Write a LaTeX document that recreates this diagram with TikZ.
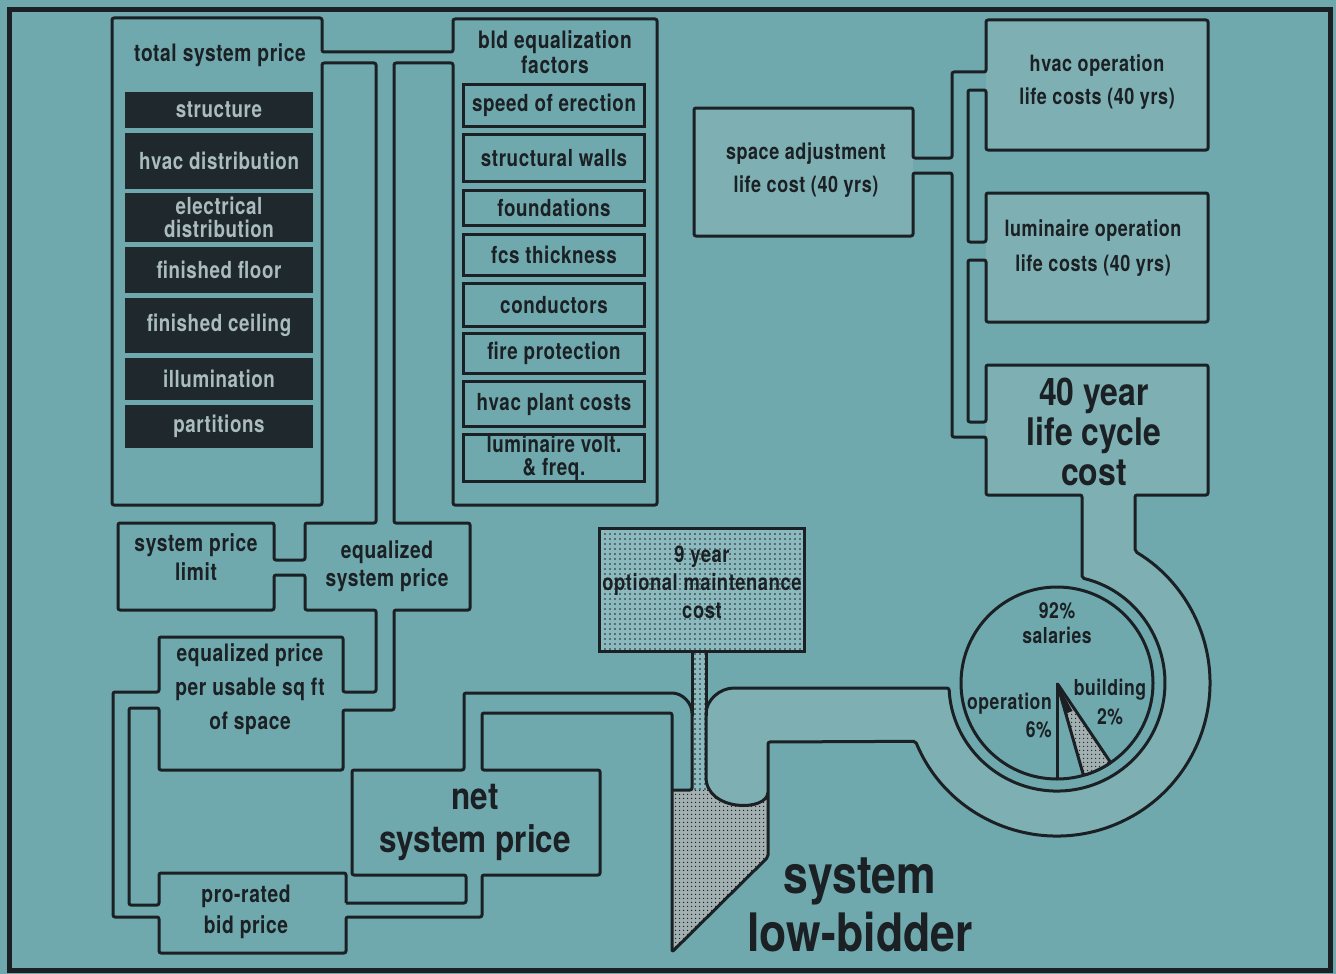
\documentclass[tikz,border=0pt]{standalone}
\usepackage{fontspec}
\setmainfont{TeX Gyre Heros}[FakeStretch=0.84]
\newfontfamily\chica{TeX Gyre Heros}[FakeStretch=0.8, LetterSpace=2.5]
\usetikzlibrary{patterns.meta}
\definecolor{fondo}{RGB}{111,168,173}
\definecolor{tinta}{RGB}{26,32,35}
\definecolor{oscuro}{RGB}{31,41,45}
\definecolor{claro}{RGB}{170,188,190}
\definecolor{punteado}{RGB}{126,175,179}
\definecolor{gris}{RGB}{162,176,177}
\tikzset{
  pared/.style={draw=tinta, line width=3pt, line join=round, rounded corners=2pt},
  puntos/.style={fill=#1, postaction={pattern={Dots[distance=5pt, radius=0.8pt]}, pattern color=tinta}},
  denso/.style={fill=#1, postaction={pattern={Dots[distance=4pt, radius=0.9pt]}, pattern color=tinta}},
  rotulo/.style={text=tinta, align=center, inner sep=0pt,
                 font=\chica\fontsize{24}{28}\selectfont\bfseries},
  oscura/.style={fill=oscuro, text=claro, minimum width=188pt, align=center,
                 inner sep=0pt, font=\chica\fontsize{23.5}{23}\selectfont\bfseries},
  factor/.style={draw=tinta, line width=3pt, fill=fondo, minimum width=181pt,
                 align=center, inner sep=0pt, text=tinta,
                 font=\chica\fontsize{23.5}{23}\selectfont\bfseries},
  grande/.style={rotulo, font=\fontsize{37.5}{43}\selectfont\bfseries}
}
\begin{document}
\begin{tikzpicture}[x=1pt, y=1pt]
  \useasboundingbox (0,0) rectangle (1336,-974);
  \fill[fondo] (0,0) rectangle (1336,-974);
  \coordinate (ctr) at (1057,-683);

  % rellenos
  \fill[punteado] (986,-20) rectangle (1208,-150);
  \fill[punteado] (986,-193) rectangle (1208,-322);
  \fill[punteado] (986,-365) rectangle (1208,-495);
  \fill[punteado] (694,-108) rectangle (913,-236);
  \fill[punteado] (1082,-495) -- (1082,-578) arc[start angle=76.6, end angle=-177.3, radius=108]
    -- (736,-688) to[out=180,in=90] (706,-716) -- (706,-775)
    .. controls (706,-812) and (768,-812) .. (768,-792) -- (768,-742)
    -- ([shift={(202.4:153)}]ctr) arc[start angle=202.4, end angle=419.3, radius=153]
    -- (1135,-495) -- cycle;
  \path[denso=gris] (672,-790) -- (706,-790) -- (706,-775)
    .. controls (706,-812) and (768,-812) .. (768,-792) -- (768,-857) -- (672,-952) -- cycle;
  \path[puntos=fondo!80!white] (692,-653) rectangle (706,-790);

  % paredes
  \draw[pared] (346,-903) -- (346,-873) -- (159,-873) -- (159,-905) -- (129,-905) -- (129,-708)
    -- (159,-708) -- (159,-770) -- (343,-770) -- (343,-710) -- (394,-710) -- (394,-610)
    -- (470,-610) -- (470,-523) -- (394,-523) -- (394,-63) -- (453,-63) -- (453,-505)
    -- (657,-505) -- (657,-19) -- (453,-19) -- (453,-52) -- (322,-52) -- (322,-18)
    -- (112,-18) -- (112,-505) -- (322,-505) -- (322,-63) -- (376,-63) -- (376,-523)
    -- (305,-523) -- (305,-560) -- (274,-560) -- (274,-523) -- (118,-523) -- (118,-610)
    -- (274,-610) -- (274,-575) -- (305,-575) -- (305,-610) -- (376,-610) -- (376,-692)
    -- (343,-692) -- (343,-637) -- (159,-637) -- (159,-692) -- (113,-692) -- (113,-917)
    -- (159,-917) -- (159,-953) -- (346,-953) -- (346,-917) -- (482,-917) -- (482,-875)
    -- (600,-875) -- (600,-770) -- (482,-770) -- (482,-713) -- (672,-713) -- (672,-952)
    -- (768,-857) -- (768,-742)
    -- ([shift={(202.4:153)}]ctr) arc[start angle=202.4, end angle=419.3, radius=153]
    -- (1135,-495) -- (1208,-495) -- (1208,-365) -- (986,-365) -- (986,-422) -- (968,-422)
    -- (968,-260) -- (986,-260) -- (986,-322) -- (1208,-322) -- (1208,-193) -- (986,-193)
    -- (986,-242) -- (968,-242) -- (968,-90) -- (986,-90) -- (986,-150) -- (1208,-150)
    -- (1208,-20) -- (986,-20) -- (986,-72) -- (952,-72) -- (952,-158) -- (913,-158)
    -- (913,-108) -- (694,-108) -- (694,-236) -- (913,-236) -- (913,-173) -- (952,-173)
    -- (952,-437) -- (986,-437) -- (986,-495) -- (1082,-495) -- (1082,-578)
    arc[start angle=76.6, end angle=-177.3, radius=108]
    -- (736,-688) to[out=180,in=90] (706,-716) -- (706,-775)
    .. controls (706,-812) and (768,-812) .. (768,-792);
  \draw[pared] (346,-903) -- (466,-903) -- (466,-875) -- (352,-875) -- (352,-770) -- (464,-770)
    -- (464,-693) -- (670,-693) to[out=0,in=90] (692,-715) -- (692,-790) -- (672,-790);
  \draw[pared] (692,-653) -- (692,-716);
  \draw[pared] (706,-653) -- (706,-716);
  \node[draw=tinta, line width=3pt, puntos=fondo!80!white, minimum width=205pt,
        minimum height=123pt] (cajanueve) at (702,-590) {};

  % torta
  \draw[pared, fill=fondo] (ctr) circle[radius=96];
  \path[pared, denso=gris] (ctr) -- ([shift={(-74:96)}]ctr)
    arc[start angle=-74, end angle=-56, radius=96] -- cycle;
  \fill[tinta] (ctr) -- ([shift={(-76:32)}]ctr) -- ([shift={(-61:32)}]ctr) -- cycle;
  \draw[pared] (ctr) -- ([shift={(-90:96)}]ctr);

  % cajas
  \node[oscura, minimum height=36pt] (estructura) at (219,-110) {structure};
  \node[oscura, minimum height=56pt] (hvacdist) at (219,-161) {hvac distribution};
  \node[oscura, minimum height=49pt] (electrica) at (219,-217.5) {electrical\\distribution};
  \node[oscura, minimum height=46pt] (piso) at (219,-270) {finished floor};
  \node[oscura, minimum height=55pt] (cielo) at (219,-325.5) {finished ceiling};
  \node[oscura, minimum height=42pt] (iluminacion) at (219,-379) {illumination};
  \node[oscura, minimum height=43pt] (particiones) at (219,-426.5) {partitions};

  \node[factor, minimum height=42pt] (velocidad) at (554,-105.5) {speed of erection};
  \node[factor, minimum height=47pt] (muros) at (554,-158) {structural walls};
  \node[factor, minimum height=35pt] (fundaciones) at (554,-208) {foundations};
  \node[factor, minimum height=41pt] (espesor) at (554,-255) {fcs thickness};
  \node[factor, minimum height=43pt] (conductores) at (554,-305) {conductors};
  \node[factor, minimum height=40pt] (fuego) at (554,-353.5) {fire protection};
  \node[factor, minimum height=45pt] (planta) at (554,-404) {hvac plant costs};
  \node[factor, minimum height=47pt] (voltaje) at (554,-458) {luminaire volt.\\\& freq.};

  % textos
  \node[rotulo] (total) at (220,-55) {total system price};
  \node[rotulo, font=\chica\fontsize{24}{25}\selectfont\bfseries] (igualacion) at (555,-52)
    {bld equalization\\factors};
  \node[rotulo, font=\chica\fontsize{24}{29}\selectfont\bfseries] (limite) at (196,-557)
    {system price\\limit};
  \node[rotulo] (igualado) at (387,-566) {equalized\\system price};
  \node[rotulo, font=\chica\fontsize{24}{34}\selectfont\bfseries] (unitario) at (250,-689)
    {equalized price\\per usable sq ft\\of space};
  \node[rotulo, font=\chica\fontsize{24}{31}\selectfont\bfseries] (prorrata) at (246,-912)
    {pro-rated\\bid price};
  \node[grande] (neto) at (475,-822) {net\\system price};
  \node[rotulo, font=\chica\fontsize{22.5}{33}\selectfont\bfseries] (espacio) at (806,-170)
    {space adjustment\\life cost (40 yrs)};
  \node[rotulo, font=\chica\fontsize{22.5}{33}\selectfont\bfseries] (hvacop) at (1097,-82)
    {hvac operation\\life costs (40 yrs)};
  \node[rotulo, font=\chica\fontsize{22.5}{35}\selectfont\bfseries] (lumop) at (1093,-248)
    {luminaire operation\\life costs (40 yrs)};
  \node[rotulo, font=\fontsize{38}{40}\selectfont\bfseries] (ciclo) at (1094,-432)
    {40 year\\life cycle\\cost};
  \node[rotulo, font=\chica\fontsize{23}{28}\selectfont\bfseries] (nueve) at (702,-582)
    {9 year\\optional maintenance\\cost};
  \node[rotulo, font=\chica\fontsize{22}{25}\selectfont\bfseries] (salarios) at (1057,-623)
    {92\%\\salaries};
  \node[rotulo, align=right, anchor=east, font=\chica\fontsize{22}{28}\selectfont\bfseries]
    (operacion) at (1052,-716) {operation\\6\%};
  \node[rotulo, font=\chica\fontsize{22}{29}\selectfont\bfseries] (edificio) at (1110,-702)
    {building\\2\%};
  \node[rotulo, font=\fontsize{53}{58}\selectfont\bfseries] (ganador) at (860,-905)
    {system\\low-bidder};

  \draw[tinta, line width=5pt] (9,-9.5) rectangle (1330,-970.5);
\end{tikzpicture}
\end{document}
